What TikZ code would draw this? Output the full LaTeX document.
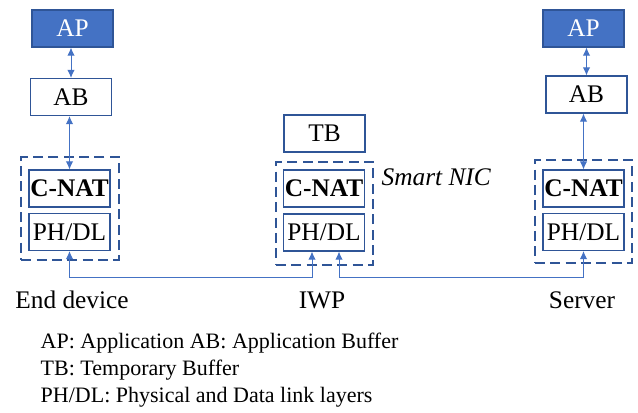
\documentclass[tikz,border=0pt]{standalone}
\usepackage{fontspec}
\setmainfont{Liberation Serif}
\usepackage{tikz}
\usetikzlibrary{positioning,calc,arrows.meta}
\definecolor{apblue}{HTML}{4472C4}
\definecolor{edgeblue}{HTML}{2F5597}
\tikzstyle{blk}=[draw=edgeblue, line width=0.8pt, inner sep=0pt, minimum width=60.75pt, minimum height=27.75pt]
\tikzstyle{apbox}=[blk, fill=apblue, text=white]
\tikzstyle{nic}=[draw=edgeblue, line width=1.5pt, dash pattern=on 7.5pt off 4pt, minimum width=73pt, minimum height=77pt]
\tikzstyle{arr}=[<->, >={Latex[length=6pt,width=5.5pt]}, line width=0.75pt, draw=apblue]

\begin{document}
\begin{tikzpicture}[x=0.75pt, y=-0.75pt, every node/.style={font=\fontsize{19}{22}\selectfont}]
  \useasboundingbox (0,0) rectangle (638,412);

  % end device
  \node[apbox] (apL) at (72.5,28.5) {AP};
  \node[blk] (abL) at (71,97) {AB};
  \node[blk] (cnatL) at (69.5,188.5) {\textbf{C-NAT}};
  \node[blk] (phL) at (69.5,232) {PH/DL};
  \node[nic, minimum height=77.25pt] (nicL) at (70,208.5) {};

  % IWP
  \node[blk] (tb) at (324.5,133.5) {TB};
  \node[blk] (cnatM) at (324,188.5) {\textbf{C-NAT}};
  \node[blk] (phM) at (324,232.5) {PH/DL};
  \node[nic] (nicM) at (324.5,213.5) {};
  \node[anchor=west, font=\fontsize{19}{22}\selectfont\itshape] (smart) at (377,177) {Smart NIC};

  % server
  \node[apbox] (apR) at (583.5,28.5) {AP};
  \node[blk] (abR) at (586.5,94.5) {AB};
  \node[blk] (cnatR) at (583.5,188.5) {\textbf{C-NAT}};
  \node[blk] (phR) at (583.5,232) {PH/DL};
  \node[nic] (nicR) at (583.5,211.5) {};

  % vertical links
  \draw[arr] (abL.north) -- (abL.north |- apL.south);
  \draw[arr] (cnatL.north |- abL.south) -- (cnatL.north);
  \draw[arr] (abR.north) -- (abR.north |- apR.south);
  \draw[arr] (cnatR.north |- abR.south) -- (cnatR.north);

  % physical links
  \draw[arr] (phL.south) -- ++(0,26) -| ($(phM.south)+(-12,0)$);
  \draw[arr] ($(phM.south)+(15,0)$) -- ++(0,26) -| (phR.south);

  % labels
  \node (devL) at (72,300) {End device};
  \node (devM) at (322,300) {IWP};
  \node (devR) at (582,300) {Server};
  \node[anchor=west, align=left, font=\fontsize{16.5}{20.25}\selectfont] (legend) at (36,370)
    {AP: Application AB: Application Buffer\\TB: Temporary Buffer\\PH/DL: Physical and Data link layers};

\end{tikzpicture}
\end{document}
